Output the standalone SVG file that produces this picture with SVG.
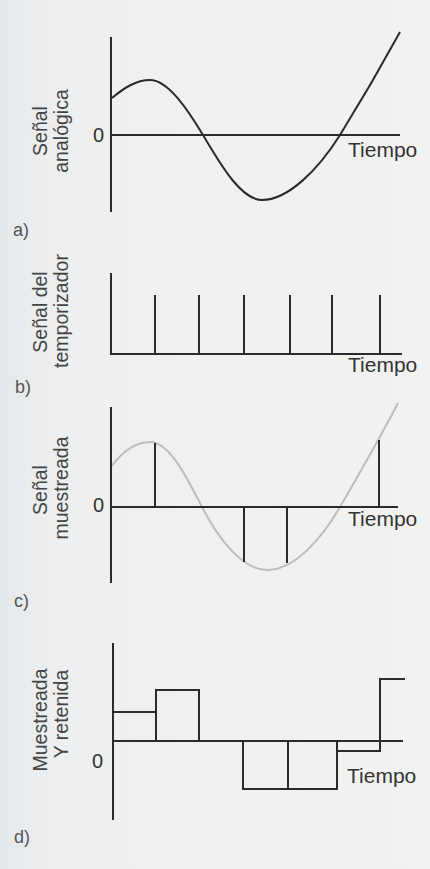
<svg xmlns="http://www.w3.org/2000/svg" width="430" height="869" viewBox="0 0 430 869">
<defs>
<linearGradient id="bg" x1="0" y1="0" x2="1" y2="0">
<stop offset="0" stop-color="#e6e9ec"/>
<stop offset="0.15" stop-color="#eeeff0"/>
<stop offset="1" stop-color="#f2f2f1"/>
</linearGradient>
</defs>
<style>
.ax{stroke:#2b2b2b;stroke-width:2;fill:none}
.sig{stroke:#2b2b2b;stroke-width:2;fill:none}
.ghost{stroke:#bdbdbd;stroke-width:2;fill:none}
.t{font-family:"Liberation Sans",Arial,sans-serif;font-size:21px;fill:#333}
.zero{font-family:"Liberation Sans",Arial,sans-serif;font-size:20px;fill:#333}
.lab{font-family:"Liberation Sans",Arial,sans-serif;font-size:19.5px;fill:#444;text-anchor:middle}
.tag{font-family:"Liberation Sans",Arial,sans-serif;font-size:18px;fill:#555}
</style>
<rect width="430" height="869" fill="url(#bg)"/>

<g id="panel-a">
<text class="lab" transform="translate(47,131) rotate(-90)">Señal</text>
<text class="lab" transform="translate(68,131) rotate(-90)">analógica</text>
<text class="zero" x="93" y="142">0</text>
<line class="ax" x1="111" y1="37" x2="111" y2="212"/>
<line class="ax" x1="111" y1="135" x2="400" y2="135"/>
<path class="sig" d="M112,98 C124,88 136,80 150,80 C168,80 188,110 203,135 C218,160 240,200 262,200 C288,200 318,170 340,135 C358,106 382,65 400,32"/>
<text class="t" x="348" y="157">Tiempo</text>
<text class="tag" x="13" y="236">a)</text>
</g>

<g id="panel-b">
<text class="lab" transform="translate(47,312) rotate(-90)">Señal del</text>
<text class="lab" transform="translate(68,311) rotate(-90)">temporizador</text>
<line class="ax" x1="111" y1="273" x2="111" y2="355"/>
<line class="ax" x1="110" y1="354" x2="402" y2="354"/>
<g class="sig">
<line x1="155" y1="295" x2="155" y2="354"/>
<line x1="199" y1="295" x2="199" y2="354"/>
<line x1="244" y1="295" x2="244" y2="354"/>
<line x1="290" y1="295" x2="290" y2="354"/>
<line x1="332" y1="295" x2="332" y2="354"/>
<line x1="380" y1="295" x2="380" y2="354"/>
</g>
<text class="t" x="348" y="372">Tiempo</text>
<text class="tag" x="15" y="393">b)</text>
</g>

<g id="panel-c">
<text class="lab" transform="translate(47,490) rotate(-90)">Señal</text>
<text class="lab" transform="translate(68,488) rotate(-90)">muestreada</text>
<text class="zero" x="93" y="512">0</text>
<path class="ghost" d="M111,467 C122,452 136,442 150,442 C170,442 188,480 202,507 C218,538 242,570 267,570 C295,570 322,538 340,507 C358,476 383,432 398,403"/>
<line class="ax" x1="111" y1="407" x2="111" y2="583"/>
<line class="ax" x1="111" y1="507" x2="398" y2="507"/>
<g class="sig">
<line x1="155" y1="443" x2="155" y2="507"/>
<line x1="244" y1="507" x2="244" y2="562"/>
<line x1="287" y1="507" x2="287" y2="563"/>
<line x1="379" y1="440" x2="379" y2="507"/>
</g>
<text class="t" x="348" y="526">Tiempo</text>
<text class="tag" x="14" y="607">c)</text>
</g>

<g id="panel-d">
<text class="lab" transform="translate(47,720) rotate(-90)">Muestreada</text>
<text class="lab" transform="translate(68,714) rotate(-90)">Y retenida</text>
<text class="zero" x="92" y="768">0</text>
<line class="ax" x1="113" y1="643" x2="113" y2="820"/>
<line class="ax" x1="113" y1="741" x2="403" y2="741"/>
<g class="sig">
<path d="M113,712 H156"/>
<path d="M156,741 V690 H199 V741"/>
<path d="M243,741 V789 H337 V741"/>
<path d="M288,741 V789"/>
<path d="M337,751 H380 V679 H405"/>
</g>
<text class="t" x="347" y="783">Tiempo</text>
<text class="tag" x="14" y="843">d)</text>
</g>
</svg>
